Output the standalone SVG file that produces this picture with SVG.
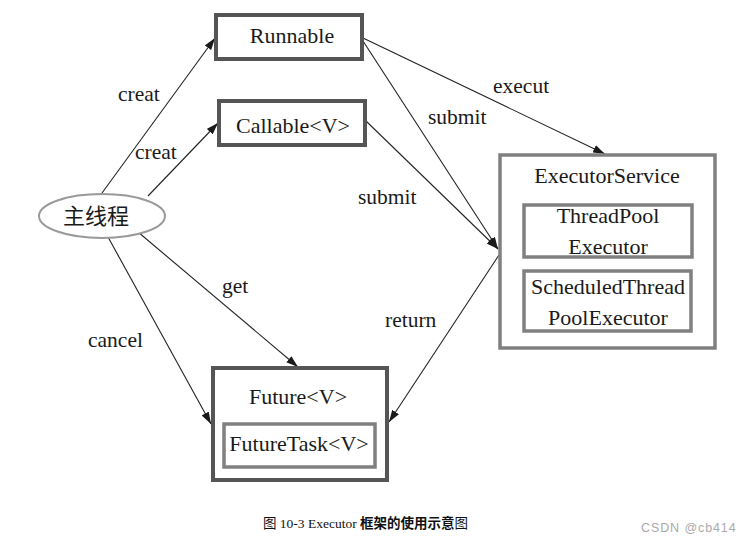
<svg xmlns="http://www.w3.org/2000/svg" width="755" height="546" viewBox="0 0 755 546">
<defs>
<marker id="ah" viewBox="0 0 12 8" refX="12" refY="4" markerWidth="12" markerHeight="8" markerUnits="userSpaceOnUse" orient="auto">
<path d="M0,0 L12,4 L0,8 Z" fill="#1a1a1a"/>
</marker>
</defs>
<style>
.t{font-family:"Liberation Serif","Times New Roman",serif;font-size:22px;fill:#1a1a1a}
.l{font-family:"Liberation Serif","Times New Roman",serif;font-size:21.5px;fill:#1a1a1a}
.dark{fill:#fff;stroke:#555;stroke-width:4}
.grey{fill:#fff;stroke:#808080;stroke-width:3.5}
.e{stroke:#222;stroke-width:1.1;fill:none;marker-end:url(#ah)}
</style>
<rect width="755" height="546" fill="#fff"/>
<g id="connectors">
<line class="e" x1="102" y1="193" x2="215" y2="38"/>
<line class="e" x1="148" y1="196" x2="218" y2="123"/>
<line class="e" x1="363" y1="38" x2="605" y2="154"/>
<line class="e" x1="363" y1="41" x2="498" y2="249"/>
<line class="e" x1="366" y1="121" x2="498" y2="249"/>
<line class="e" x1="499" y1="255" x2="389" y2="422"/>
<line class="e" x1="108" y1="237" x2="211" y2="424"/>
<line class="e" x1="138" y1="232" x2="298" y2="367"/>
<text class="l" x="118" y="101">creat</text>
<text class="l" x="135" y="159">creat</text>
<text class="l" x="493" y="93">execut</text>
<text class="l" x="428" y="124">submit</text>
<text class="l" x="358" y="204">submit</text>
<text class="l" x="385" y="327">return</text>
<text class="l" x="88" y="347">cancel</text>
<text class="l" x="222" y="293">get</text>
</g>
<g id="main">
<ellipse cx="102" cy="216" rx="63" ry="22" fill="#fff" stroke="#999" stroke-width="2"/>
<text x="96" y="224" text-anchor="middle" style="font-family:'Noto Sans CJK SC',sans-serif;font-size:22px;fill:#1a1a1a">主线程</text>
</g>
<g id="runnable">
<rect class="dark" x="216" y="15" width="146" height="44"/>
<text class="t" x="292" y="43" text-anchor="middle">Runnable</text>
</g>
<g id="callable">
<rect class="dark" x="219" y="101" width="146" height="44"/>
<text class="t" x="293" y="133" text-anchor="middle">Callable&lt;V&gt;</text>
</g>
<g id="executorService">
<rect class="grey" x="500" y="155" width="215" height="193"/>
<text class="t" x="607" y="183" text-anchor="middle">ExecutorService</text>
</g>
<g id="threadPool">
<rect class="grey" x="524" y="205" width="168" height="52"/>
<text class="t" x="608" y="223" text-anchor="middle">ThreadPool</text>
<text class="t" x="608" y="254" text-anchor="middle">Executor</text>
</g>
<g id="scheduled">
<rect class="grey" x="524" y="271" width="167" height="60"/>
<text class="t" x="608" y="294" text-anchor="middle">ScheduledThread</text>
<text class="t" x="608" y="325" text-anchor="middle">PoolExecutor</text>
</g>
<g id="future">
<rect class="dark" x="213" y="368" width="174" height="112"/>
<text class="t" x="298" y="404" text-anchor="middle">Future&lt;V&gt;</text>
</g>
<g id="futureTask">
<rect class="grey" x="224" y="424" width="151" height="43"/>
<text class="t" x="299" y="451" text-anchor="middle">FutureTask&lt;V&gt;</text>
</g>
<text x="263" y="528" style="font-family:'Liberation Serif','Noto Sans CJK SC',serif;font-size:13.5px;fill:#111">图 10-3  Executor <tspan font-weight="bold">框架的使用示意</tspan>图</text>
<text x="641" y="532" style="font-family:'Liberation Sans',Arial,sans-serif;font-size:12.5px;letter-spacing:0.9px;fill:#aaa">CSDN @cb414</text>
</svg>
